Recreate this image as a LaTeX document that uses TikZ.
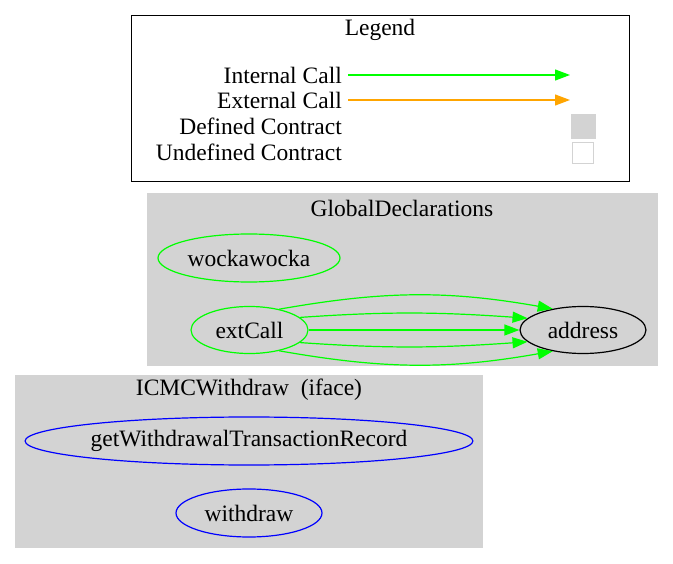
\documentclass[tikz,border=0pt]{standalone}
\usepackage{fontspec}
\setmainfont{Liberation Serif}
\usepackage{tikz}
\usetikzlibrary{arrows.meta, positioning, shapes.geometric}
\definecolor{callgreen}{RGB}{0, 255, 0}
\definecolor{extorange}{RGB}{255, 165, 0}
\definecolor{clustergray}{RGB}{211, 211, 211}
\definecolor{ifaceblue}{RGB}{0, 0, 255}

\begin{document}
\begin{tikzpicture}[
    x=1pt, y=-1pt,
    txt/.style={font=\fontsize{23.5}{27}\selectfont, inner sep=0pt},
    func/.style={ellipse, draw, txt, line width=1.2pt},
    defn/.style={func, draw=callgreen},
    iface/.style={func, draw=ifaceblue},
    lbl/.style={txt, anchor=east},
    call/.style={draw=callgreen, line width=1.2pt,
                 -{Triangle[length=15pt, width=11pt]}},
    extcall/.style={call, draw=extorange},
  ]
    \useasboundingbox (0,0) rectangle (673,564);

    % Legend
    \draw[line width=1pt] (131,16) rectangle (629,182);
    \node[txt] (legend) at (380,30) {Legend};
    \node[lbl] (lblint) at (342,75) {Internal Call};
    \node[lbl] (lblext) at (342,100) {External Call};
    \node[lbl] (lbldef) at (342,126) {Defined Contract};
    \node[lbl] (lblundef) at (342,152) {Undefined Contract};
    \coordinate (intend) at (570,75);
    \coordinate (extend) at (570,100);
    \draw[call, fill=callgreen] ([xshift=6pt]lblint.east) -- (intend);
    \draw[extcall, fill=extorange] ([xshift=6pt]lblext.east) -- (extend);
    \node[fill=clustergray, minimum size=25pt, inner sep=0pt] (defsq) at (583,127) {};
    \node[draw=clustergray, fill=white, line width=1pt, minimum size=21pt,
          inner sep=0pt] (undefsq) at (583,153) {};

    % GlobalDeclarations
    \fill[clustergray] (147,193) rectangle (658,366);
    \node[txt] (globtitle) at (402,208) {GlobalDeclarations};
    \node[defn, minimum width=182pt, minimum height=48pt] (wockawocka) at (249,258) {wockawocka};
    \node[defn, minimum width=117pt, minimum height=47pt] (extCall) at (249.5,330) {extCall};
    \node[func, minimum width=126pt, minimum height=47pt] (address) at (583,330) {address};

    % ICMCWithdraw
    \fill[clustergray] (15,375) rectangle (483,548);
    \node[txt] (icmctitle) at (249,390) {ICMCWithdraw\ \ (iface)};
    \node[iface, minimum width=446pt, minimum height=48pt] (getrecord) at (249,441) {getWithdrawalTransactionRecord};
    \node[iface, minimum width=146pt, minimum height=48pt] (withdraw) at (249,513) {withdraw};

    % Calls
    \draw[call] (extCall) -- (address);
    \draw[call] (extCall.14) to[out=4, in=176] (address.168);
    \draw[call] (extCall.-14) to[out=-4, in=-176] (address.-168);
    \draw[call] (extCall.35) to[out=10, in=170] (address.145);
    \draw[call] (extCall.-35) to[out=-10, in=-170] (address.-145);
  \end{tikzpicture}
\end{document}
